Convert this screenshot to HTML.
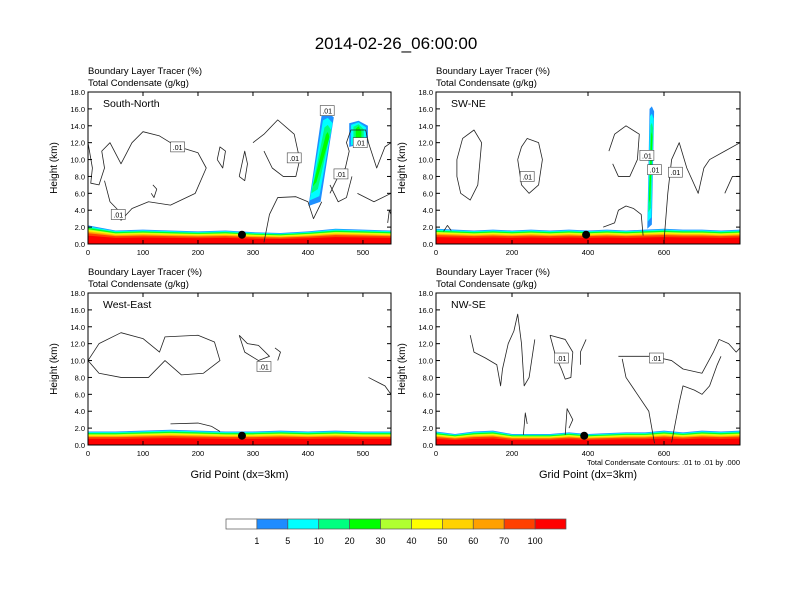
<!DOCTYPE html>
<html><head><meta charset="utf-8"><style>
body{margin:0;background:#fff;}
svg{display:block;font-family:"Liberation Sans",Arial,sans-serif;}
</style></head><body>
<svg id="c" width="792" height="612" viewBox="0 0 792 612">
<text x="396" y="49" font-size="17" text-anchor="middle">2014-02-26_06:00:00</text>
</svg>
<script>
const NS="http://www.w3.org/2000/svg";
const svg=document.getElementById('c');
const yTicks=[0,2,4,6,8,10,12,14,16,18];
const panelTitles=["South-North","SW-NE","West-East","NW-SE"];
const panelXMax=[551,800,551,800];
const panelXTicks=[[0,100,200,300,400,500],[0,200,400,600],[0,100,200,300,400,500],[0,200,400,600]];
// boundary layer top (km) sampled every 50 grid points
const blTop1=[2.2,1.6,1.7,1.6,1.5,1.6,1.4,1.3,1.5,1.8,1.7,1.6,2.2];
const blTop2=[1.8,1.7,1.6,1.7,1.6,1.7,1.6,1.7,1.6,1.7,1.6,1.7,1.8,1.7,1.7,1.6,1.7];
const blTop3=[1.6,1.6,1.7,1.8,1.7,1.6,1.6,1.7,1.6,1.7,1.6,1.6,1.6];
const blTop4=[1.6,1.3,1.6,1.7,1.3,1.3,1.3,1.5,1.3,1.4,1.5,1.5,1.7,1.5,1.7,1.6,1.7];
const blTops=[blTop1,blTop2,blTop3,blTop4];
const dotX=[280,395,280,390];
const dotY=[1.1,1.1,1.1,1.1];
// plumes: [xBottom, bottomKm, xTop, topKm, widthGrid]
const plumes=[[[412,4.5,436,15.6,22],[492,11.5,492,14.6,34]],[[562,1.8,568,16.3,12]],[],[]];
// contour polylines [x,km,...]
const contours=[
[[0,12,8,9,5,7.2,20,7,30,9,25,11,40,12,60,9.5,80,12,100,13.3,130,12.8,160,11.6,200,10.8,215,9,195,6,150,4.6,110,5,80,4.2,60,2.8,55,4,40,5,30,7.5],
 [300,12,320,13,345,14.7,375,13,385,10,378,8,355,8,335,9,320,11],
 [440,6,455,8,468,9,475,11,470,12,478,13.5,505,13.5,510,12,525,9,540,11.5,551,12],
 [320,0.2,330,3.5,345,5.5,378,5.6,400,5,410,3,425,5],
 [440,7,455,5,470,5.5,480,8],
 [490,6,520,5,551,6],
 [545,2.5,548,4,551,3.5],
 [115,6,120,5.5,125,6.5,118,7],[235,10,245,9,250,11,240,11.5,235,10],[275,8,285,11,290,9.5,285,7.5,275,8]],
[[55,10,70,12.5,100,13.5,120,12,110,7,90,5.2,65,6,55,8,55,10],
 [215,10,225,11.5,240,12.5,270,12,280,10,270,7,245,6,225,7,215,10],
 [455,11,470,13,500,14,535,13,530,10,510,8,480,8,465,9.5],
 [440,2,470,2.5,480,4,500,4.5,520,4.2,540,3.5,545,1],
 [600,0.3,610,6,620,10,640,12,660,9,690,6,705,9,720,10,760,11,800,12],
 [760,6,780,8,800,8],[20,1.5,30,2.2,40,1.6]],
[[0,10,20,12,60,13.3,100,12.6,130,11,140,12.8,200,13,230,12.2,240,10,210,8.5,170,8.3,140,10,110,8,60,8,20,8.5,0,10],
 [275,13,290,12,310,11.8,330,10.5,310,10,285,11,275,13],[340,11.5,350,11,345,10],[510,8,540,7,551,6],
 [150,2.5,200,2.6,225,2.2,240,1.6]],
[[90,13,100,11,130,10.3,160,9.5,170,7,175,9,190,12,205,13.5,215,15.5,225,12,232,7,245,8,255,11,260,12.5],
 [300,13,315,10.5,330,9,340,7.8,355,8,360,11,340,12.5,300,13],
 [380,9.5,380,11,395,12.5],
 [490,10.2,500,8,560,4,575,0.2],[620,0.3,640,5,650,7,680,6.5,700,6,720,7,740,9.5,750,10.5],
 [480,10.5,570,10.5,620,10,650,9,700,8.5,730,11,745,12.5,770,12,790,11,800,11.5],
 [230,1.2,235,3.8,240,2.5],[340,1.2,345,4.3,360,3,350,2]]
];
const labels=[[[163,11.5],[55,3.5],[375,10.2],[435,15.8],[460,8.3],[495,12]],[[555,10.5],[575,8.8],[630,8.5],[240,8]],[[320,9.3]],[[330,10.3],[580,10.3]]];
const bandColors=["#ff0000","#ff4000","#ffa000","#ffd200","#ffff00","#b0ff30","#00ff00","#00ff80","#00ffff","#1e90ff"];
const bandFrac=[0.45,0.58,0.65,0.7,0.75,0.8,0.85,0.9,0.95,1.0];
const cbColors=["#ffffff","#1e8cff","#00ffff","#00ff80","#00ff00","#b0ff30","#ffff00","#ffd200","#ffa000","#ff4000","#ff0000"];
const cbLabels=["1","5","10","20","30","40","50","60","70","100"];
const boxes=[[88,92,303,152],[436,92,304,152],[88,293,303,152],[436,293,304,152]];
function el(t,a,p){const e=document.createElementNS(NS,t);for(const k in a)e.setAttribute(k,a[k]);(p||svg).appendChild(e);return e;}
boxes.forEach((b,p)=>{
 const [X,Y,W,H]=b;const xm=panelXMax[p];
 const sx=v=>X+v/xm*W, sy=v=>Y+H-v/18*H;
 const g=el('g',{});
 
 
 const t1=el('text',{x:X,y:Y-18,'font-size':9.5},g);t1.textContent="Boundary Layer Tracer    (%)";
 
 const t2=el('text',{x:X,y:Y-6,'font-size':9.5},g);t2.textContent="Total Condensate    (g/kg)";
 
 const cp=el('clipPath',{id:'cp'+p},g);el('rect',{x:X,y:Y,width:W,height:H},cp);
 const pg=el('g',{'clip-path':'url(#cp'+p+')'},g);
 const bl=blTops[p];
 for(let i=bandColors.length-1;i>=0;i--){
  let d="M"+sx(0)+","+sy(0);
  bl.forEach((v,j)=>{d+=" L"+sx(j*50)+","+sy(v*bandFrac[i]);});
  d+=" L"+sx((bl.length-1)*50)+","+sy(0)+"Z";
  const a=el('path',{d:d,fill:bandColors[i]},pg);
  
 }
 plumes[p].forEach(q=>{
  const [xb,b0,xt,t0,w]=q;
  [["#1e90ff",1],["#00ffff",0.8],["#00ff80",0.55],["#00ff00",0.3]].forEach(c=>{
   const hw=w/2*c[1],m=(t0-b0)*(1-c[1])*0.3;
   const e=el('path',{d:`M${sx(xb-hw)},${sy(b0+m)} L${sx(xt-hw)},${sy(t0-m-0.3)} L${sx(xt)},${sy(t0-m)} L${sx(xt+hw)},${sy(t0-m-0.6)} L${sx(xb+hw)},${sy(b0+m+0.5)} Z`,fill:c[0]},pg);
   
  });
 });
 contours[p].forEach(c=>{
  let d="";for(let i=0;i<c.length;i+=2)d+=(i?" L":"M")+sx(c[i])+","+sy(c[i+1]);
  const e=el('path',{d:d,fill:'none',stroke:'#222','stroke-width':0.8,'stroke-linejoin':'round'},pg);
  
 });
 labels[p].forEach(l=>{
  const r=el('rect',{x:sx(l[0])-7,y:sy(l[1])-5,width:14,height:10,fill:'#fff',stroke:'#444','stroke-width':0.6},pg);
  
  const t=el('text',{x:sx(l[0]),y:sy(l[1])+3,'font-size':7,'text-anchor':'middle'},pg);t.textContent=".01";
 });
 const d=el('circle',{cx:sx(dotX[p]),cy:sy(dotY[p]),r:4,fill:'#000'},g);
 
 const fr=el('rect',{x:X,y:Y,width:W,height:H,fill:'none',stroke:'#000','stroke-width':1},g);
 
 yTicks.forEach(v=>{
  el('line',{x1:X,x2:X+4,y1:sy(v),y2:sy(v),stroke:'#000'},g);
  el('line',{x1:X+W,x2:X+W-4,y1:sy(v),y2:sy(v),stroke:'#000'},g);
  const t=el('text',{x:X-3,y:sy(v)+3,'font-size':7.5,'text-anchor':'end'},g);t.textContent=v.toFixed(1);
  
 });
 panelXTicks[p].forEach(v=>{
  el('line',{x1:sx(v),x2:sx(v),y1:Y+H,y2:Y+H-4,stroke:'#000'},g);
  el('line',{x1:sx(v),x2:sx(v),y1:Y,y2:Y+4,stroke:'#000'},g);
  const t=el('text',{x:sx(v),y:Y+H+11,'font-size':7.5,'text-anchor':'middle'},g);t.textContent=v;
  
 });
 const pt=el('text',{x:X+15,y:Y+15,'font-size':10.5},g);pt.textContent=panelTitles[p];
 
 const yl=el('text',{x:0,y:0,'font-size':10,'text-anchor':'middle',transform:`translate(${X-31},${Y+H/2}) rotate(-90)`},g);yl.textContent="Height (km)";
 
 if(p>=2){const xl=el('text',{x:X+W/2,y:Y+H+33,'font-size':11,'text-anchor':'middle'},g);xl.textContent="Grid Point (dx=3km)";
  }
 if(p==3){const n=el('text',{x:X+W,y:Y+H+20,'font-size':7.5,'text-anchor':'end'},g);n.textContent="Total Condensate Contours: .01 to .01 by .000";
  }
});
const cbg=el('g',{});

const cw=340/cbColors.length;
cbColors.forEach((c,i)=>{const r=el('rect',{x:226+i*cw,y:519,width:cw,height:10,fill:c,stroke:'#555','stroke-width':0.7},cbg);
 });
cbLabels.forEach((l,i)=>{const t=el('text',{x:226+(i+1)*cw,y:544,'font-size':9,'text-anchor':'middle'},cbg);t.textContent=l;
 });
</script>
</body></html>
